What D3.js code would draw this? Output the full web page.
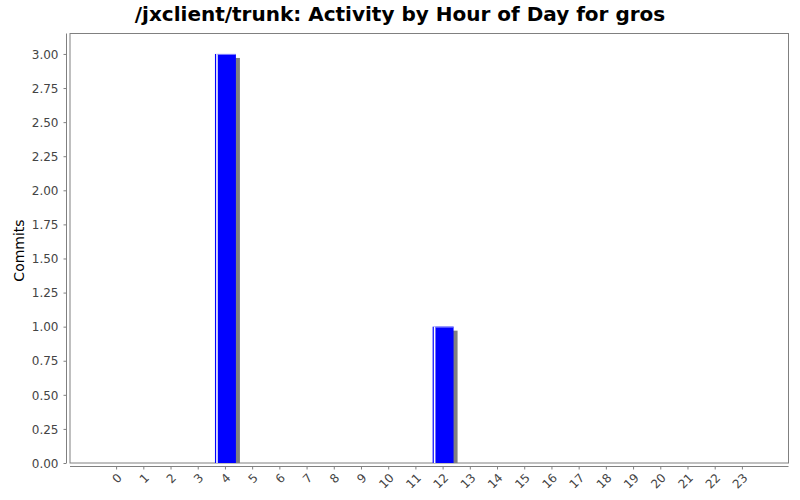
<!DOCTYPE html>
<html><head><meta charset="utf-8">
<script src="https://cdn.jsdelivr.net/npm/d3@7"></script>
<style>body{margin:0;background:#fff}</style>
</head><body>
<svg id="c" width="800" height="500"></svg>
<script>
const title = "/jxclient/trunk: Activity by Hour of Day for gros";
const yLabel = "Commits";
const hours = ["0","1","2","3","4","5","6","7","8","9","10","11","12","13","14","15","16","17","18","19","20","21","22","23"];
const commits = [0,0,0,0,3,0,0,0,0,0,0,0,1,0,0,0,0,0,0,0,0,0,0,0];
const yTicks = [0,0.25,0.5,0.75,1,1.25,1.5,1.75,2,2.25,2.5,2.75,3];

const svg = d3.select("#c");
const font = "DejaVu Sans, sans-serif";
const plot = {left:70, right:788.5, top:33.5, bottom:463};

svg.append("text").attr("x",400).attr("y",21).attr("text-anchor","middle")
  .attr("font-family",font).attr("font-weight","bold").attr("font-size",20).attr("fill","#000").text(title);

const x = d3.scaleBand().domain(hours).range([103,756]).paddingInner(0.23).paddingOuter(0.115);
const y = d3.scaleLinear().domain([0,3.15]).range([plot.bottom, plot.top]);

// plot border
svg.append("rect").attr("x",plot.left).attr("y",plot.top).attr("width",plot.right-plot.left).attr("height",plot.bottom-plot.top)
  .attr("fill","#fff").attr("stroke","#808080").attr("stroke-width",1);

// shadows
const data = hours.map((h,i)=>({h, v:commits[i]})).filter(d=>d.v>0);
svg.selectAll(".sh").data(data).enter().append("rect")
  .attr("x",d=>x(d.h)+4).attr("y",d=>y(d.v)+4).attr("width",x.bandwidth())
  .attr("height",d=>plot.bottom-y(d.v)-4).attr("fill","#808080");
svg.selectAll(".bar").data(data).enter().append("rect")
  .attr("x",d=>x(d.h)).attr("y",d=>y(d.v)).attr("width",x.bandwidth())
  .attr("height",d=>plot.bottom-y(d.v)).attr("fill","#0000ff");
svg.selectAll(".hl").data(data).enter().append("rect")
  .attr("x",d=>x(d.h)+1.2).attr("y",d=>y(d.v)).attr("width",1.6)
  .attr("height",d=>plot.bottom-y(d.v)).attr("fill","#ffffff");
svg.selectAll(".hlt").data(data).enter().append("rect")
  .attr("x",d=>x(d.h)+2.8).attr("y",d=>y(d.v)).attr("width",x.bandwidth()-2.8)
  .attr("height",1).attr("fill","#8080ff");

// y axis
const yAxis = d3.axisLeft(y).tickValues(yTicks).tickFormat(d3.format(".2f")).tickSize(3).tickPadding(5);
const gy = svg.append("g").attr("transform","translate(66.5,0)").call(yAxis);
gy.select(".domain").attr("d",`M0,${plot.top}V${plot.bottom}`).attr("stroke","#808080");
gy.selectAll(".tick line").attr("stroke","#808080");
gy.selectAll("text").attr("font-family",font).attr("font-size",12).attr("fill","#444").attr("dy","0.35em");

// x axis
const xAxis = d3.axisBottom(x).tickSize(3).tickPadding(2);
const gx = svg.append("g").attr("transform","translate(0,466.5)").call(xAxis);
gx.select(".domain").attr("d",`M${plot.left},0H${plot.right}`).attr("stroke","#808080");
gx.selectAll(".tick line").attr("stroke","#808080");
gx.selectAll("text").attr("font-family",font).attr("font-size",12).attr("fill","#444")
  .attr("text-anchor","end").attr("dy",null).attr("y",0)
  .attr("transform","translate(6,12) rotate(-45)");

svg.append("text").attr("transform","translate(24,250.5) rotate(-90)").attr("text-anchor","middle")
  .attr("font-family",font).attr("font-size",14).attr("fill","#000").text(yLabel);
</script>
</body></html>
